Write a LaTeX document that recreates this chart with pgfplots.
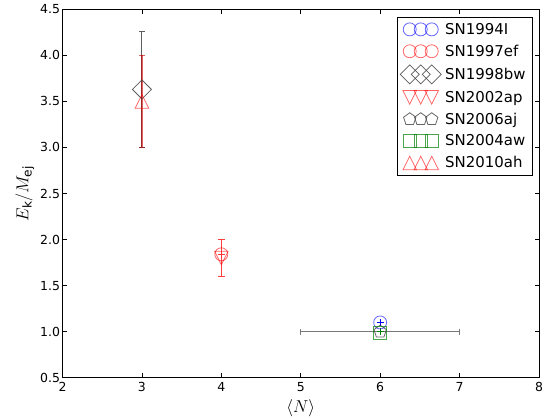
\documentclass[border=0pt]{standalone}
\usepackage{fontspec}
\setmainfont{DejaVu Sans}
\usepackage{pgfplots}
\pgfplotsset{compat=1.18}

\definecolor{mblue}{rgb}{0,0,1}
\definecolor{mred}{rgb}{1,0,0}
\definecolor{mgreen}{rgb}{0,0.5,0}
\definecolor{mgrey}{rgb}{0.25,0.25,0.25}

% matplotlib-like triangles (width = height)
\pgfdeclareplotmark{mtriup}{%
  \pgfpathmoveto{\pgfqpoint{0pt}{\pgfplotmarksize}}%
  \pgfpathlineto{\pgfqpoint{-\pgfplotmarksize}{-\pgfplotmarksize}}%
  \pgfpathlineto{\pgfqpoint{\pgfplotmarksize}{-\pgfplotmarksize}}%
  \pgfpathclose\pgfusepathqstroke}
\pgfdeclareplotmark{mtridown}{%
  \pgfpathmoveto{\pgfqpoint{0pt}{-\pgfplotmarksize}}%
  \pgfpathlineto{\pgfqpoint{-\pgfplotmarksize}{\pgfplotmarksize}}%
  \pgfpathlineto{\pgfqpoint{\pgfplotmarksize}{\pgfplotmarksize}}%
  \pgfpathclose\pgfusepathqstroke}

\begin{document}
\begin{tikzpicture}
\begin{axis}[
    name=ax,
    width=476.5bp, height=368.4bp, scale only axis,
    xmin=2, xmax=8, ymin=0.5, ymax=4.5,
    xtick={2,3,4,5,6,7,8},
    ytick={0.5,1.0,1.5,2.0,2.5,3.0,3.5,4.0,4.5},
    yticklabel style={xshift=1bp, /pgf/number format/.cd, fixed, fixed zerofill, precision=1},
    /pgf/number format/assume math mode=true,
    tick label style={font=\fontsize{12.5}{14}\selectfont},
    xticklabel style={yshift=-1bp},
    tick align=inside,
    major tick length=4.5bp,
    tick style={line width=0.8pt, black},
    minor tick num=0,
    xlabel={$\langle N\rangle$},
    ylabel={$E_{\rm k}/M_{\rm ej}$},
    label style={font=\fontsize{17.5}{19}\selectfont},
    xlabel style={at={(axis description cs:0.5,-0.082)}, anchor=center},
    ylabel style={at={(axis description cs:-0.079,0.5)}, anchor=center},
    axis line style={black, line width=1pt},
    legend cell align=left,
    legend style={at={(1,1)}, xshift=-6bp, yshift=-7.4bp, anchor=north east,
        font=\fontsize{15}{17}\selectfont, draw=black, line width=0.8pt,
        row sep=5.2bp, inner xsep=3bp, inner ysep=4bp,
        nodes={inner xsep=4bp}},
    legend image code/.code={%
        \draw[mark repeat=1, mark phase=1, #1]
            plot coordinates {(0bp,0bp)(11bp,0bp)(22bp,0bp)};},
]
% --- error bars (not in legend) ---
\addplot[forget plot, draw=none, no marks,
    error bars/.cd, y dir=both, y explicit,
    error bar style={draw=mgrey!85, line width=1pt, solid},
    error mark options={rotate=90, mark size=3bp, line width=1pt, draw=mgrey!85}]
    coordinates {(3,3.63) +- (0,0.63)};
\addplot[forget plot, draw=none, no marks,
    error bars/.cd, y dir=both, y explicit,
    error bar style={draw=mred!80!black, draw opacity=0.6, line width=2.6pt, solid},
    error mark options={rotate=90, mark size=3bp, line width=1.2pt, draw=mred!75!black}]
    coordinates {(3,3.5) +- (0,0.5)};
\addplot[forget plot, draw=none, no marks,
    error bars/.cd, y dir=both, y explicit,
    error bar style={draw=mred!75, line width=0.9pt, solid},
    error mark options={rotate=90, mark size=3.5bp, line width=0.9pt, draw=mred!75}]
    coordinates {(4,1.80) +- (0,0.2)};
\addplot[forget plot, draw=none, no marks,
    error bars/.cd, x dir=both, x explicit,
    error mark=|,
    error bar style={draw=mgrey!70, line width=1.3pt, solid},
    error mark options={mark size=3bp, line width=1.1pt, draw=mgrey!70}]
    coordinates {(6,1.0) +- (1,0)};
\addplot[forget plot, only marks, mark=+, mark size=3.5bp, mred!80, line width=0.9pt]
    coordinates {(4,1.84)};
\addplot[forget plot, only marks, mark=+, mark size=3.5bp, mblue, line width=1pt]
    coordinates {(6,1.1)};
\addplot[forget plot, only marks, mark=+, mark size=3.5bp, mgreen, line width=1pt]
    coordinates {(6,1.0)};

% --- markers (legend order) ---
\addplot[only marks, mark=o, mark size=6.5bp,
    mark options={draw=mblue, draw opacity=0.6, fill=none, line width=0.8pt}]
    coordinates {(6,1.1)};
\addlegendentry{SN1994I}
\addplot[only marks, mark=o, mark size=6.5bp,
    mark options={draw=mred, draw opacity=0.6, fill=none, line width=0.8pt}]
    coordinates {(4,1.84)};
\addlegendentry{SN1997ef}
\addplot[only marks, mark=square, mark size=6.7bp,
    mark options={draw=mgrey, draw opacity=0.85, fill=none, rotate=45, line width=0.8pt}]
    coordinates {(3,3.63)};
\addlegendentry{SN1998bw}
\addplot[only marks, mark=mtridown, mark size=6.8bp,
    mark options={draw=mred, draw opacity=0.6, fill=none, line width=0.8pt}]
    coordinates {(4,1.80)};
\addlegendentry{SN2002ap}
\addplot[only marks, mark=pentagon, mark size=6.5bp,
    mark options={draw=mgrey, draw opacity=0.8, fill=none, line width=0.8pt}]
    coordinates {(6,1.0)};
\addlegendentry{SN2006aj}
\addplot[only marks, mark=square, mark size=6.5bp,
    mark options={draw=mgreen, draw opacity=0.7, fill=none, line width=0.8pt}]
    coordinates {(6,0.99)};
\addlegendentry{SN2004aw}
\addplot[only marks, mark=mtriup, mark size=6.8bp,
    mark options={draw=mred, draw opacity=0.6, fill=none, line width=0.8pt}]
    coordinates {(3,3.5)};
\addlegendentry{SN2010ah}
\end{axis}
\pgfresetboundingbox
\useasboundingbox ([shift={(-62.5bp,-39.3bp)}]ax.south west)
    rectangle ([shift={(10bp,9.3bp)}]ax.north east);
\end{tikzpicture}
\end{document}
